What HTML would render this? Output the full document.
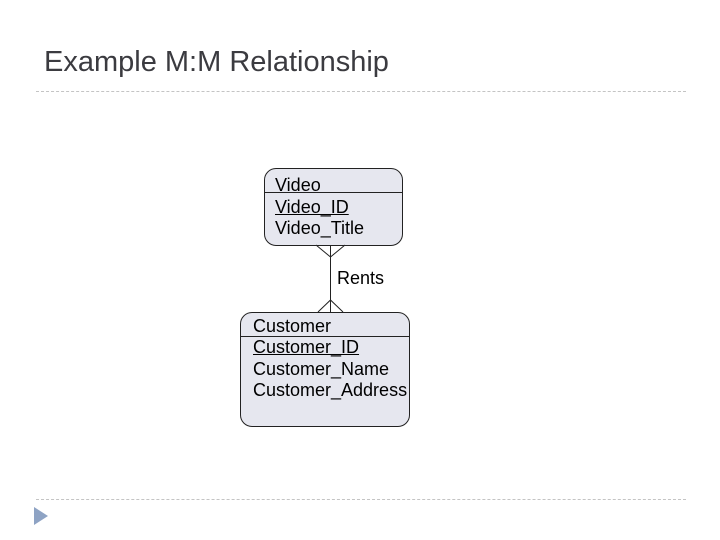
<!DOCTYPE html>
<html><head><style>
body{margin:0;width:720px;height:540px;background:#fff;position:relative;overflow:hidden;font-family:"Liberation Sans",sans-serif}
.t{position:absolute;left:44px;top:46px;font-size:29px;color:#3b3b40}
.d{position:absolute;left:36px;width:650px;border-top:1px dashed #c4c4c4}
.box{position:absolute;background:#e6e7ef;border:1px solid #222;border-radius:12px}
.l{position:absolute;font-size:18px;color:#000;white-space:nowrap;line-height:22px}
</style></head><body>
<div class="t">Example M:M Relationship</div>
<div class="d" style="top:91px"></div>
<div class="d" style="top:499px"></div>
<svg style="position:absolute;left:0;top:0" width="720" height="540">
<polygon points="34,507 48,516 34,525" fill="#8ea3c4"/>
</svg>
<div class="box" style="left:264px;top:168px;width:137px;height:76px"></div>
<div class="box" style="left:240px;top:312px;width:168px;height:113px"></div>
<svg style="position:absolute;left:0;top:0" width="720" height="540">
<line x1="264" y1="192.5" x2="402" y2="192.5" stroke="#222"/>
<line x1="240" y1="336.5" x2="409" y2="336.5" stroke="#222"/>
<g stroke="#222" fill="none">
<line x1="330.5" y1="245" x2="330.5" y2="312"/>
<polyline points="316,245 330.5,257 345,245"/>
<polyline points="318,312 330.5,300 343,312"/>
</g>
</svg>
<div class="l" style="left:275px;top:174px">Video</div>
<div class="l" style="left:275px;top:196px;text-decoration:underline">Video_ID</div>
<div class="l" style="left:275px;top:217px">Video_Title</div>
<div class="l" style="left:337px;top:267px">Rents</div>
<div class="l" style="left:253px;top:315px">Customer</div>
<div class="l" style="left:253px;top:336px;text-decoration:underline">Customer_ID</div>
<div class="l" style="left:253px;top:358px">Customer_Name</div>
<div class="l" style="left:253px;top:379px">Customer_Address</div>
</body></html>
